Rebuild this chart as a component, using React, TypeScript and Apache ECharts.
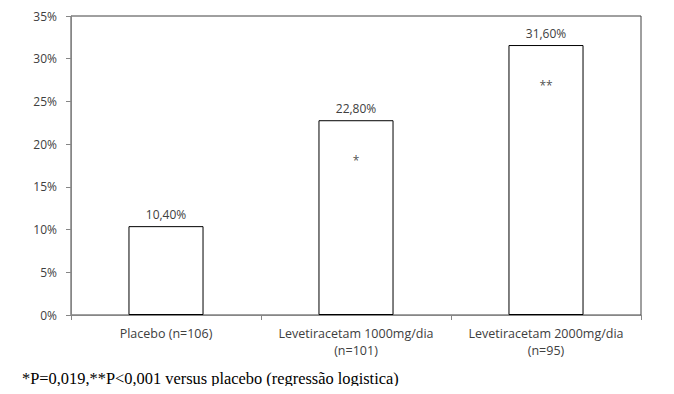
import React, { useEffect, useRef } from "react";
import * as echarts from "echarts";

const categories = [
  "Placebo (n=106)",
  "Levetiracetam 1000mg/dia\n(n=101)",
  "Levetiracetam 2000mg/dia\n(n=95)",
];
const values = [10.4, 22.8, 31.6];
const valueLabels = ["10,40%", "22,80%", "31,60%"];
const significance = ["", "*", "**"];
const yTicks = [0, 5, 10, 15, 20, 25, 30, 35];
const footnote = "*P=0,019,**P<0,001 versus placebo (regressão logistica)";

const FONT = "Open Sans";

export default function App() {
  const ref = useRef<HTMLDivElement>(null);
  useEffect(() => {
    if (!ref.current) return;
    const chart = echarts.init(ref.current, undefined, { renderer: "svg" });
    chart.setOption({
      animation: false,
      backgroundColor: "#ffffff",
      grid: {
        left: 71,
        right: 33,
        top: 16,
        bottom: 79,
        show: true,
        borderColor: "#404040",
        borderWidth: 1,
        backgroundColor: "transparent",
      },
      xAxis: {
        type: "category",
        data: categories,
        axisLine: { lineStyle: { color: "#868686", width: 1 } },
        axisTick: { show: true, length: 5, lineStyle: { color: "#868686" } },
        axisLabel: {
          interval: 0,
          hideOverlap: false,
          color: "#404040",
          fontFamily: FONT,
          fontSize: 12.5,
          lineHeight: 17,
          margin: 10,
        },
      },
      yAxis: {
        type: "value",
        min: 0,
        max: 35,
        interval: 5,
        splitLine: { show: false },
        axisLine: { show: true, lineStyle: { color: "#868686", width: 1 } },
        axisTick: { show: true, length: 5, lineStyle: { color: "#868686" } },
        axisLabel: {
          color: "#404040",
          fontFamily: FONT,
          fontSize: 12,
          margin: 14,
          formatter: (v: number) => (yTicks.includes(v) ? v + "%" : ""),
        },
      },
      series: [
        {
          type: "bar",
          data: values,
          barWidth: "39.5%",
          itemStyle: { color: "#ffffff", borderColor: "#000000", borderWidth: 1 },
          label: {
            show: true,
            position: "top",
            distance: 6,
            color: "#404040",
            fontFamily: FONT,
            fontSize: 12,
            formatter: (p: any) => valueLabels[p.dataIndex],
          },
        },
        {
          type: "scatter",
          data: values,
          symbolSize: 0,
          silent: true,
          itemStyle: { color: "#222222" },
          label: {
            show: true,
            position: "inside",
            offset: [0, 40],
            color: "#222222",
            fontFamily: FONT,
            fontSize: 12,
            formatter: (p: any) => significance[p.dataIndex],
          },
        },
      ],
      graphic: [
        {
          type: "text",
          left: 22,
          top: 370,
          style: {
            text: footnote,
            font: "16.4px 'Liberation Serif'",
            fill: "#000000",
          },
        },
      ],
    });
    return () => chart.dispose();
  }, []);
  return <div ref={ref} style={{ width: 674, height: 394, margin: -8 }} />;
}
